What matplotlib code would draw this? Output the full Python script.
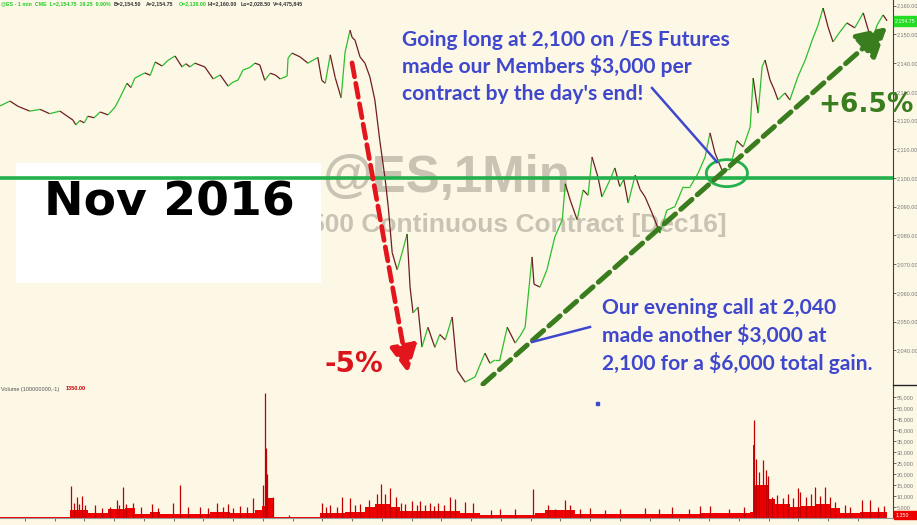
import matplotlib
matplotlib.use('Agg')
import matplotlib.pyplot as plt
from matplotlib.collections import LineCollection
from matplotlib.patches import Rectangle, Ellipse
from matplotlib.lines import Line2D
from matplotlib.ticker import FuncFormatter

# @ES 1-min, Nov 8-9 2016. x = bar number on the chart (1 bar = 1 minute,
# the 17:00-18:00 maintenance hour is not drawn)
price_bar = [0, 20, 36, 40, 60, 81, 100, 121, 135, 147, 153, 161, 170, 177, 190, 202, 218, 232, 242, 256, 264, 272,
             292, 303, 313, 327, 339, 353, 367, 375, 383, 393, 413, 430, 444, 460, 470, 480, 490, 504,
             514, 524, 534, 545, 555, 565, 579, 581, 589, 605, 621, 641, 649, 656, 666, 676,
             688, 696, 706, 710, 716, 726, 736, 746, 756, 766, 777, 783, 791, 801, 811,
             821, 827, 833, 843, 851, 863, 877, 887, 898, 912, 922, 938, 958, 978, 988, 998,
             1008, 1023, 1039, 1049, 1059, 1073, 1077, 1089, 1103, 1119, 1134, 1140, 1150, 1164, 1176, 1186, 1194, 1206,
             1214, 1230, 1240, 1250, 1258, 1267, 1281, 1291, 1301, 1315, 1331, 1345, 1361, 1378, 1392, 1408, 1422,
             1432, 1442, 1456, 1472, 1486, 1499, 1513, 1519, 1529, 1537, 1543, 1553, 1561, 1569, 1583, 1593,
             1609, 1624, 1638, 1650, 1660, 1670, 1680, 1694, 1708, 1724, 1741, 1751, 1759, 1769, 1781,
             1789]
price = [2125.1, 2126.8, 2125.0, 2124.7, 2123.3, 2123.9, 2122.4, 2123.3, 2121.6, 2120.2, 2118.5, 2120.0, 2119.2, 2121.5, 2121.0, 2123.0, 2122.0, 2124.7, 2128.0, 2133.0, 2131.5, 2134.8,
         2136.6, 2135.8, 2140.4, 2139.0, 2141.0, 2142.5, 2138.7, 2139.8, 2138.7, 2140.0, 2138.7, 2134.5, 2135.9, 2132.0, 2133.4, 2134.1, 2137.6, 2138.5,
         2140.0, 2139.4, 2134.0, 2136.5, 2135.9, 2134.5, 2135.5, 2141.8, 2143.5, 2142.2, 2140.0, 2142.0, 2134.0, 2133.0, 2142.9, 2135.0,
         2127.9, 2143.9, 2151.5, 2149.0, 2148.0, 2142.2, 2140.0, 2135.2, 2127.2, 2113.0, 2099.3, 2090.0, 2074.0, 2068.0, 2074.0,
         2080.5, 2062.0, 2053.0, 2055.0, 2041.1, 2048.0, 2041.0, 2045.5, 2043.6, 2051.6, 2033.0, 2028.9, 2030.7, 2039.0, 2035.5, 2036.6,
         2036.6, 2048.0, 2042.5, 2045.0, 2048.0, 2072.5, 2063.0, 2062.0, 2068.0, 2079.5, 2085.4, 2098.0, 2092.3, 2085.4, 2095.8, 2094.0, 2107.3, 2100.3,
         2093.4, 2099.3, 2103.5, 2097.0, 2099.5, 2091.3, 2101.0, 2096.0, 2093.4, 2087.8, 2080.8, 2088.8, 2090.0, 2097.0, 2097.0, 2101.7, 2107.3,
         2115.7, 2108.7, 2102.8, 2103.0, 2113.0, 2110.8, 2117.8, 2134.8, 2122.6, 2138.7, 2141.1, 2134.1, 2131.0, 2127.2, 2129.6, 2127.2,
         2135.2, 2141.1, 2148.0, 2153.3, 2159.2, 2152.6, 2147.4, 2150.9, 2154.0, 2152.3, 2157.5, 2151.6, 2148.0, 2153.3, 2156.8,
         2154.75]

# volume: base level (held until the next bar in the list) and single-bar spikes
vol_bar = [0, 137, 141, 177, 212, 218, 246, 252, 272, 303, 323, 359, 373, 424, 464,
           514, 528, 541, 551, 645, 696, 736, 756, 787, 807, 867, 928, 968, 1059, 1079,
           1099, 1160, 1291, 1412, 1513, 1519, 1523, 1549, 1563, 1593, 1614, 1644, 1674, 1694, 1735,
           1789]
vol_level = [400, 500, 3500, 2300, 2300, 4300, 4300, 4500, 1600, 2600, 1900, 1900, 1800, 2800, 2300,
             3800, 5500, 9000, 500, 2300, 2600, 4800, 6200, 4800, 3000, 3400, 2200, 1400, 1400, 2200,
             3800, 1600, 2000, 2200, 2600, 33000, 15000, 8500, 6200, 4800, 5300, 6200, 4600, 2200, 2600,
             2600]
spike_bar = [143, 150, 155, 160, 165, 172, 192, 205, 222, 236, 241, 248, 255, 268, 285, 307, 318, 349, 363, 380, 403, 420,
             438, 450, 460, 470, 484, 498, 510,
             530, 534, 537, 539, 551, 583, 649, 658, 666, 680, 690, 706, 716, 726, 745, 760, 768, 777, 787,
             799, 808, 817, 831, 840, 847, 857, 867, 875, 883, 895, 908, 918, 938, 954, 990, 1008, 1039, 1075, 1105, 1120, 1140,
             1150, 1170, 1190, 1220, 1250, 1300, 1330, 1355, 1390, 1412, 1432, 1470, 1501, 1521, 1525, 1531, 1539, 1545, 1549, 1557, 1568, 1579,
             1590, 1600, 1610, 1614, 1626, 1636, 1644, 1654, 1664, 1674, 1685, 1704, 1715, 1739, 1755, 1771, 1782]
spike_vol = [14500, 7000, 9500, 6500, 10000, 6000, 6000, 4500, 5000, 8000, 6000, 14000, 6500, 7000, 5000, 6300, 4500, 7000, 15000, 5000, 5000, 4500,
             6800, 5000, 6400, 4500, 5500, 5000, 9000,
             15000, 57000, 32000, 20000, 9500, 1300, 7000, 5000, 6000, 5000, 9500, 9000, 6000, 6500, 8000, 10800, 15500, 11000, 13800,
             9500, 7000, 6400, 7700, 6000, 7700, 6000, 7000, 5500, 7000, 6000, 9500, 8500, 7500, 6800, 3500, 4000, 4000, 13000, 5800, 4000, 8000,
             5800, 4000, 4500, 3500, 4000, 4500, 4000, 5000, 4000, 5300, 5300, 4000, 5000, 44600, 27000, 21000, 26500, 22000, 19000, 9500, 10500, 9000,
             11000, 9000, 13500, 12000, 9500, 11000, 14000, 10000, 14000, 9500, 7500, 6000, 5000, 8000, 8000, 5000, 5500]

time_ticks = list(range(50, 1790, 60))
time_labels = ['08:00', '09:00', '10:00', '11:00', '12:00', '13:00', '14:00', '15:00', '16:00',
               '18:00', '19:00', '20:00', '21:00', '22:00', '23:00', '11/9', '01:00', '02:00',
               '03:00', '04:00', '05:00', '06:00', '07:00', '08:00', '09:00', '10:00', '11:00',
               '12:00', '13:00']

BG = '#FDF7E6'
GREEN = '#22B14C'
DKGREEN = '#3A7D1E'
RED = '#E3151D'
BLUE = '#3F48CC'
SMALL = 'Liberation Sans'
W, H = 917, 525


def fx(px):
    return px / W


def fy(py):
    return 1 - py / H


fig = plt.figure(figsize=(W / 100, H / 100), dpi=100, facecolor=BG)
ax = fig.add_axes([0, fy(385), fx(893), fy(0) - fy(385)], facecolor=BG)
axv = fig.add_axes([0, fy(518), fx(893), fy(386) - fy(518)], facecolor=BG)

# price panel
ax.set_xlim(0, 1801)
ax.set_ylim(2027.9, 2162.0)
pts = list(zip(price_bar, price))
segs = [[pts[i], pts[i + 1]] for i in range(len(pts) - 1)]
cols = ['#2DBE2D' if price[i + 1] >= price[i] else '#6E1E1E' for i in range(len(pts) - 1)]
ax.add_collection(LineCollection(segs, colors=cols, linewidths=0.9, zorder=3))

ax.yaxis.tick_right()
ax.set_yticks(range(2040, 2161, 10))
ax.yaxis.set_major_formatter(FuncFormatter(lambda v, _: f'{v:,.2f}'))
ax.tick_params(axis='y', labelsize=4, labelcolor='#7a7a7a', color='#555555', length=2, width=0.6, pad=0.6)
for lbl in ax.get_yticklabels():
    lbl.set_family(SMALL)
ax.set_xticks([])
for s in ['left', 'top', 'bottom']:
    ax.spines[s].set_visible(False)
ax.spines['right'].set_color('#404040')

# watermark
ax.text(fx(322), fy(192), '@ES,1Min', transform=fig.transFigure, fontsize=36.7,
        family='Liberation Sans', weight='bold', color='#C9C3B4', zorder=1)
ax.text(fx(727), fy(232), 'S&P 500 Continuous Contract [Dec16]', transform=fig.transFigure,
        fontsize=19, family='Liberation Sans', weight='bold', color='#C9C3B4', ha='right', zorder=1)

# white label box
ax.add_patch(Rectangle((fx(16), fy(283)), fx(305), 120 / H, transform=fig.transFigure,
                       facecolor='white', edgecolor='none', zorder=2, clip_on=False))
ax.text(fx(169), fy(215), 'Nov 2016', transform=fig.transFigure, fontsize=34,
        weight='bold', color='black', ha='center', zorder=5)

# 2,100 level and circle
ax.axhline(2100, color=GREEN, lw=2.6, zorder=4)
ax.add_patch(Ellipse((1466, 2101.7), 83, 9.4, fill=False, edgecolor=GREEN, lw=2, zorder=6))

# arrows
ax.annotate('', xy=(823, 2032.1), xytext=(710, 2140.1),
            arrowprops=dict(arrowstyle='-|>,head_length=0.9,head_width=0.45', mutation_scale=18,
                            color=RED, lw=3.4, ls=(0, (3, 1.4)), shrinkA=0, shrinkB=0), zorder=7)
ax.annotate('', xy=(1789, 2152.6), xytext=(974, 2028.2),
            arrowprops=dict(arrowstyle='-|>,head_length=0.9,head_width=0.5', mutation_scale=20,
                            color=DKGREEN, lw=3.6, ls=(0, (3, 1.4)), shrinkA=0, shrinkB=0), zorder=7)

fig.text(fx(324), fy(372), '-5%', fontsize=20, weight='bold', color='#D9141B')
fig.text(fx(818), fy(112), '+6.5%', fontsize=19, weight='bold', color=DKGREEN)

# blue notes
for i, line in enumerate(['Going long at 2,100 on /ES Futures', 'made our Members $3,000 per',
                          "contract by the day's end!"]):
    fig.text(fx(402), fy(46 + 27 * i), line, fontsize=15.1, family='Lato', weight='bold', color=BLUE)
for i, line in enumerate(['Our evening call at 2,040', 'made another $3,000 at',
                          '2,100 for a $6,000 total gain.']):
    fig.text(fx(602), fy(314 + 28 * i), line, fontsize=15.1, family='Lato', weight='bold', color=BLUE)
fig.add_artist(Line2D([fx(652), fx(717)], [fy(88), fy(162)], color=BLUE, lw=1.8))
fig.add_artist(Line2D([fx(532), fx(590)], [fy(342), fy(327)], color=BLUE, lw=1.8))
fig.add_artist(Rectangle((fx(596), fy(405)), 3 / W, 3 / H, color=BLUE))

# header line (chart symbol bar)
header = [(0, '@ES - 1 min  CME  L=2,154.75  19.25  0.90%', '#22CC22'),
          (113, 'B=2,154.50', '#333333'), (145, 'A=2,154.75', '#333333'),
          (178, 'O=2,138.00', '#22CC22'), (207, 'Hi=2,160.00', '#333333'),
          (240, 'Lo=2,028.50', '#333333'), (272, 'V=4,475,845', '#333333')]
for x0, txt, c in header:
    fig.text(fx(x0 + 1), fy(4), txt, fontsize=3.8, family=SMALL, weight='bold', color=c, va='center')

# last price tag
fig.add_artist(Rectangle((fx(894), fy(26)), 23 / W, 10 / H, color='#22DD22'))
fig.text(fx(905.5), fy(21), '2,154.75', fontsize=3.8, family=SMALL, color='white', ha='center', va='center')

# volume panel
axv.set_xlim(0, 1801)
axv.set_ylim(0, 60000)
axv.fill_between(vol_bar, vol_level, step='post', color='#EE0000', lw=0)
axv.vlines(spike_bar, 0, spike_vol, color='#C00000', lw=0.9)
axv.yaxis.tick_right()
axv.set_yticks(range(5000, 55001, 5000))
axv.yaxis.set_major_formatter(FuncFormatter(lambda v, _: f'{v:,.0f}'))
axv.tick_params(axis='y', labelsize=4, labelcolor='#7a7a7a', color='#555555', length=2, width=0.6, pad=0.6)
axv.set_xticks(time_ticks)
axv.set_xticklabels(time_labels)
axv.tick_params(axis='x', labelsize=4.5, labelcolor='#7a7a7a', color='#555555', length=2, width=0.6, pad=3)
for lbl in axv.get_yticklabels() + axv.get_xticklabels():
    lbl.set_family(SMALL)
for s in ['left', 'top']:
    axv.spines[s].set_visible(False)
axv.spines['right'].set_color('#404040')
axv.spines['bottom'].set_color('#999999')
fig.add_artist(Line2D([fx(893), 1], [fy(385), fy(385)], color='#222222', lw=1))
fig.text(fx(1), fy(389), 'Volume (100000000,-1)', fontsize=4, family=SMALL, color='#555555', va='center')
fig.text(fx(66), fy(389), '1350.00', fontsize=4, family=SMALL, weight='bold', color='#CC0000', va='center')
fig.add_artist(Rectangle((fx(894), fy(519)), 23 / W, 8 / H, color='#EE0000'))
fig.text(fx(896), fy(515), '1,350', fontsize=3.8, family=SMALL, color='white', va='center')

fig.savefig('out.png', dpi=100, facecolor=BG)
